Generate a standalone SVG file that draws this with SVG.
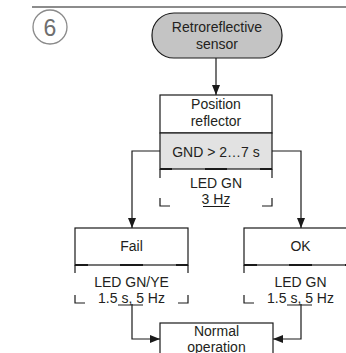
<svg xmlns="http://www.w3.org/2000/svg" width="346" height="353" viewBox="0 0 346 353">
  <defs>
    <marker id="arr" markerWidth="10" markerHeight="8" refX="10" refY="4" orient="auto" markerUnits="userSpaceOnUse">
      <path d="M0,0 L10,4 L0,8 Z" fill="#1a1a1a"/>
    </marker>
    <style>
      text { font-family: "Liberation Sans", Arial, sans-serif; font-size: 14px; fill: #231f20; text-anchor: middle; }
      .box { fill: #ffffff; stroke: #1a1a1a; stroke-width: 1.2; }
      .gray { fill: #e2e2e2; stroke: #1a1a1a; stroke-width: 1.2; }
      .term { fill: #c4c4c4; stroke: #1a1a1a; stroke-width: 1.2; }
      .br { fill: none; stroke: #1a1a1a; stroke-width: 1.2; }
      .thk { fill: none; stroke: #1a1a1a; stroke-width: 2.2; }
      .ul { fill: none; stroke: #1a1a1a; stroke-width: 1; }
      .conn { fill: none; stroke: #1a1a1a; stroke-width: 1.2; }
    </style>
  </defs>

  <line x1="32" y1="7" x2="346" y2="7" stroke="#1a1a1a" stroke-width="1.2"/>

  <g id="step-number">
    <circle cx="50" cy="27" r="17" fill="none" stroke="#8a8a8a" stroke-width="1.3"/>
    <text x="50" y="35.5" style="font-size:23px; fill:#6e6e6e">6</text>
  </g>

  <g id="connectors">
    <line class="conn" x1="216" y1="58" x2="216" y2="95" marker-end="url(#arr)"/>
    <polyline class="conn" points="160,151 132,151 132,228" marker-end="url(#arr)"/>
    <polyline class="conn" points="272,151 301,151 301,228" marker-end="url(#arr)"/>
    <polyline class="conn" points="132,304 132,339 160,339" marker-end="url(#arr)"/>
    <polyline class="conn" points="301,304 301,339 273,339" marker-end="url(#arr)"/>
  </g>

  <g id="retroreflective-sensor">
    <rect class="term" x="152" y="13" width="130" height="45" rx="22" ry="22"/>
    <text x="217" y="32">Retroreflective</text>
    <text x="217" y="49">sensor</text>
  </g>

  <g id="position-reflector">
    <rect class="box" x="160" y="95" width="112" height="38"/>
    <rect class="gray" x="160" y="133" width="112" height="36"/>
    <text x="216" y="109">Position</text>
    <text x="216" y="126">reflector</text>
    <text x="216" y="157">GND &gt; 2…7 s</text>
    <path class="thk" d="M160,169 H172 M205,169 H227 M260,169 H272"/>
    <path class="br" d="M160,169 V178 M272,169 V178 M160,198 V206 H170 M272,198 V206 H262"/>
    <text x="216" y="188">LED GN</text>
    <text x="216" y="204">3 Hz</text>
    <line class="ul" x1="203" y1="206.5" x2="229" y2="206.5"/>
  </g>

  <g id="fail">
    <rect class="box" x="75" y="228" width="113" height="37"/>
    <text x="131.5" y="251">Fail</text>
    <path class="thk" d="M75,265 H88 M120,265 H143 M176,265 H188"/>
    <path class="br" d="M75,265 V273 M188,265 V273 M75,295 V303 H85 M188,295 V303 H178"/>
    <text x="131.5" y="287">LED GN/YE</text>
    <text x="131.5" y="303">1.5 s, 5 Hz</text>
    <line class="ul" x1="118" y1="305" x2="143" y2="305"/>
  </g>

  <g id="ok">
    <rect class="box" x="244" y="228" width="113" height="37"/>
    <text x="300.5" y="251">OK</text>
    <path class="thk" d="M244,265 H257 M289,265 H312 M345,265 H357"/>
    <path class="br" d="M244,265 V273 M357,265 V273 M244,295 V303 H254 M357,295 V303 H347"/>
    <text x="300.5" y="287">LED GN</text>
    <text x="300.5" y="303">1.5 s, 5 Hz</text>
    <line class="ul" x1="287" y1="305" x2="312" y2="305"/>
  </g>

  <g id="normal-operation">
    <rect class="box" x="160" y="323" width="113" height="45"/>
    <text x="216.5" y="336">Normal</text>
    <text x="216.5" y="352">operation</text>
  </g>
</svg>
